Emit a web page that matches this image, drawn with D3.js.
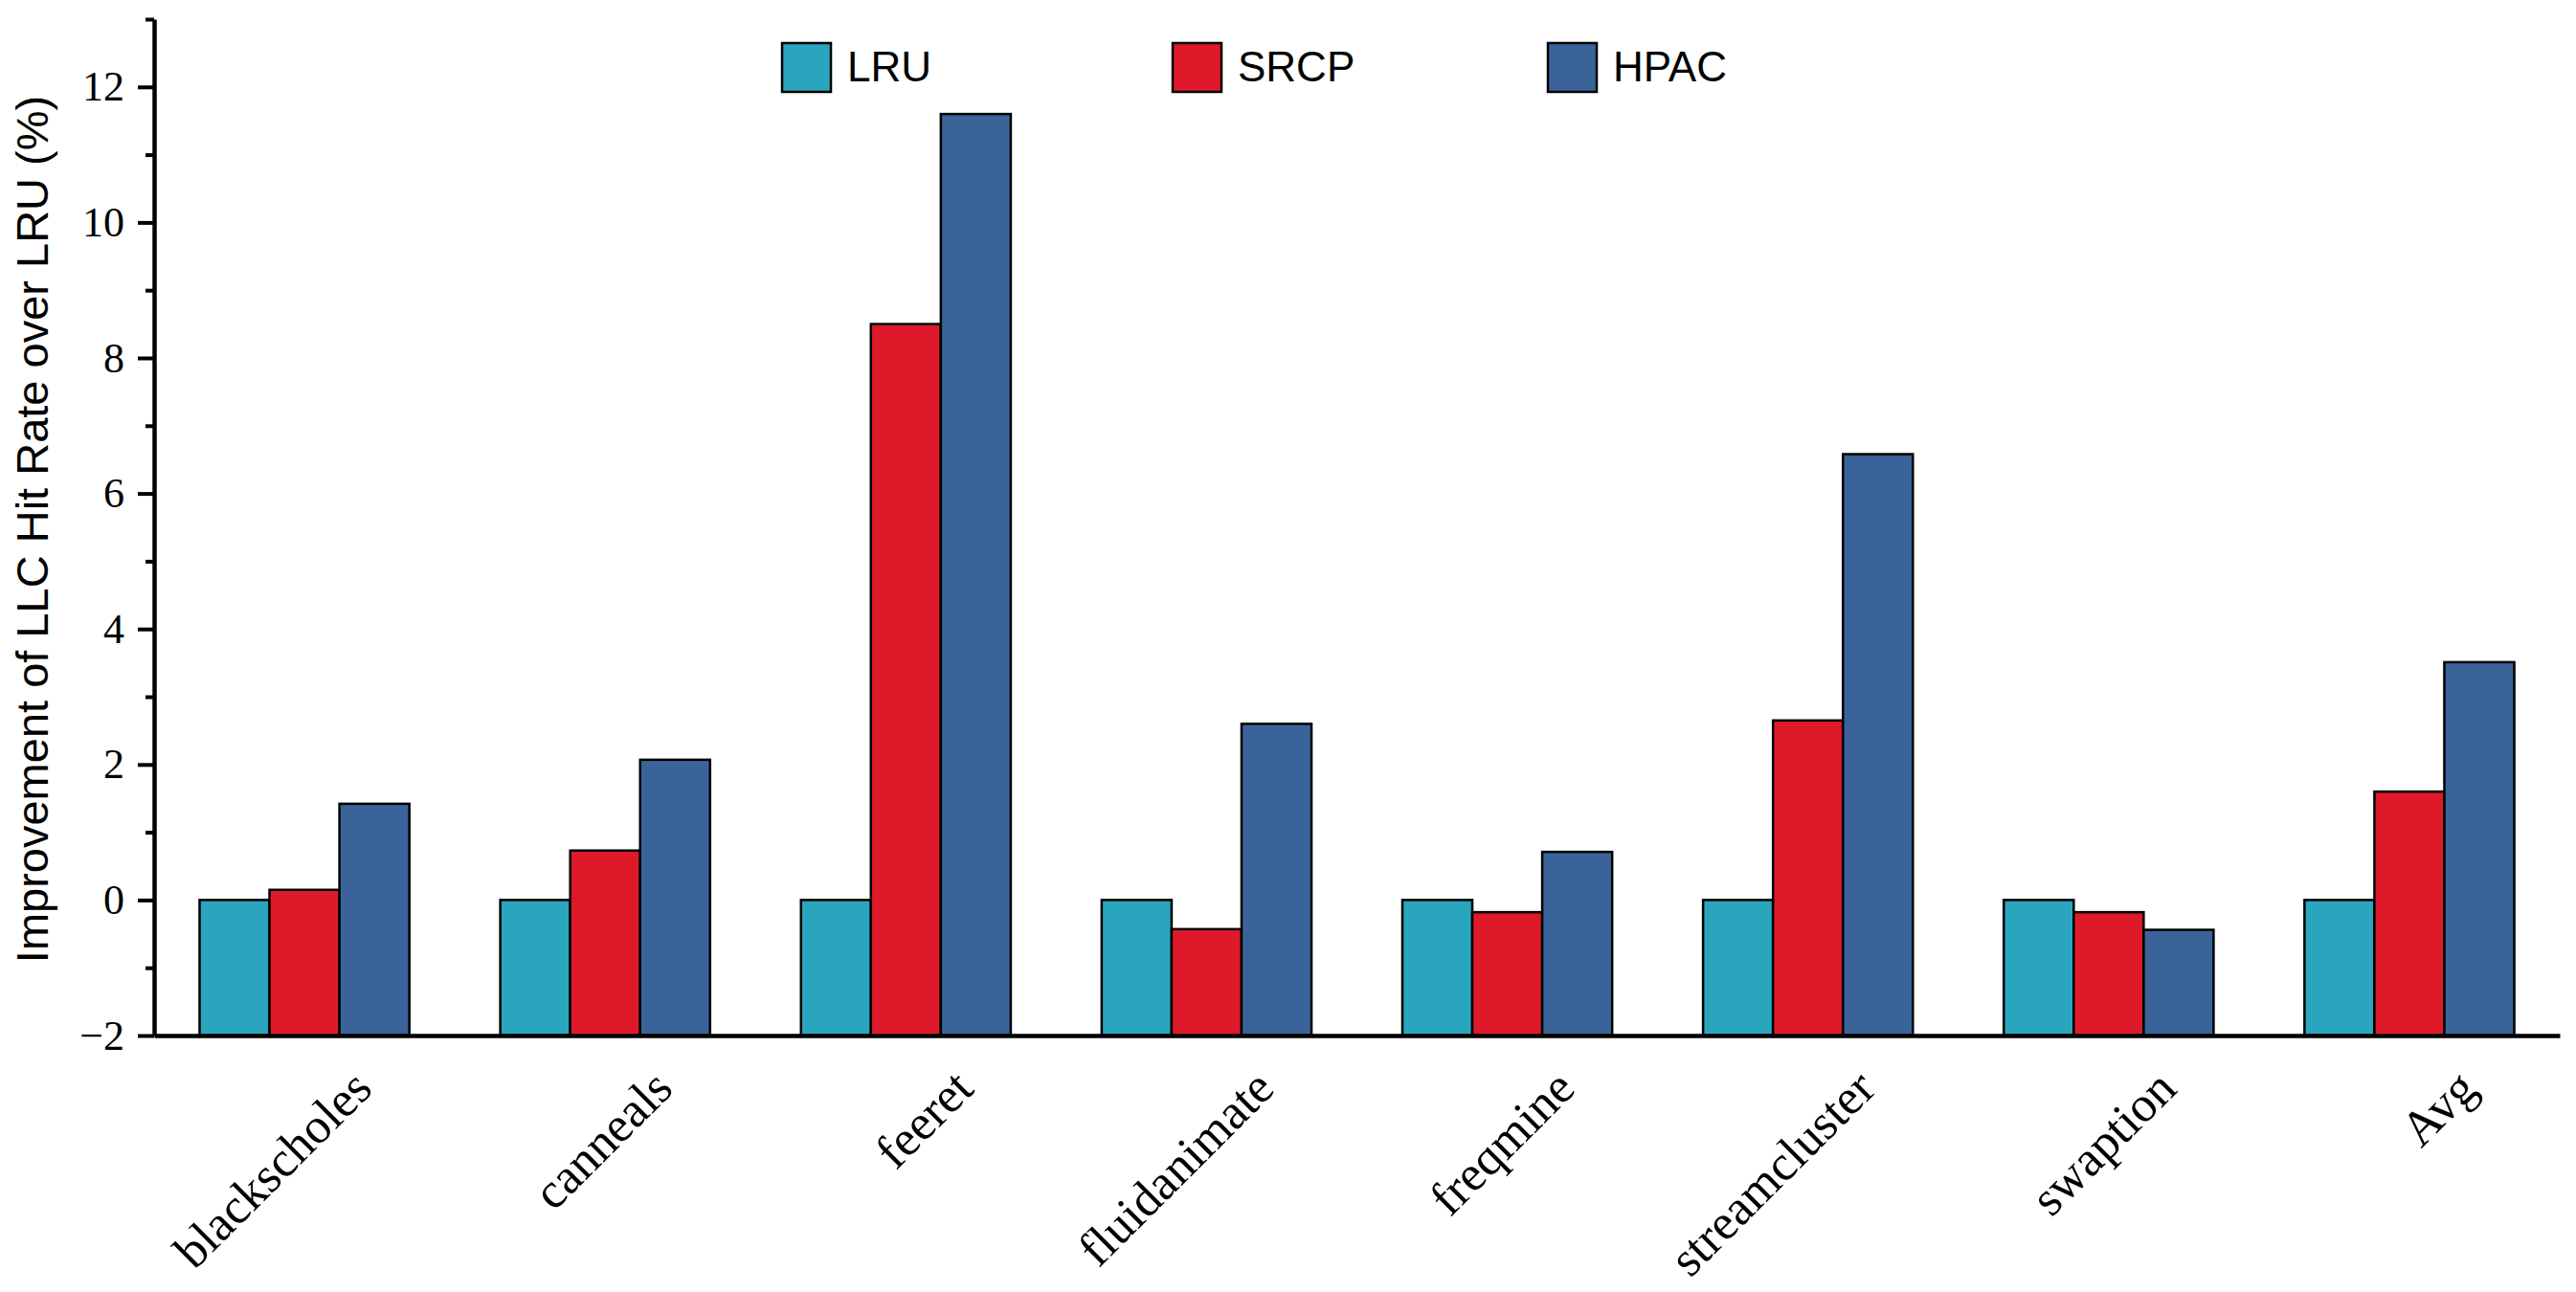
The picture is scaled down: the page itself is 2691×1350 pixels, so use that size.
<!DOCTYPE html>
<html>
<head>
<meta charset="utf-8">
<script src="https://cdn.jsdelivr.net/npm/d3@7"></script>
<style>
  body { margin: 0; background: #fff; }
</style>
</head>
<body>
<script>
// data
const categories = ["blackscholes", "canneals", "feeret", "fluidanimate", "freqmine", "streamcluster", "swaption", "Avg"];
const series = ["LRU", "SRCP", "HPAC"];
const lru  = [0, 0, 0, 0, 0, 0, 0, 0];
const srcp = [0.15, 0.73, 8.5, -0.43, -0.18, 2.65, -0.18, 1.6];
const hpac = [1.42, 2.07, 11.6, 2.6, 0.71, 6.58, -0.44, 3.51];
const yMajorTicks = [-2, 0, 2, 4, 6, 8, 10, 12];
const yMinorTicks = [-1, 1, 3, 5, 7, 9, 11, 13];
const colors = ["#29a6bd", "#de1a2a", "#3a6499"];

const values = [lru, srcp, hpac];
const WIDTH = 2691, HEIGHT = 1350;
const serif = "'Liberation Serif', 'Times New Roman', serif";
const sans = "'Liberation Sans', Arial, sans-serif";

const svg = d3.select("body").append("svg")
  .attr("width", WIDTH).attr("height", HEIGHT)
  .style("background", "#fff");

const mLeft = 161, mRight = 2674, mTop = 20, mBottom = 1082;

const x0 = d3.scaleBand().domain(categories).range([mLeft, mRight]).padding(0);
const x1 = d3.scaleBand().domain(series).range([0, x0.bandwidth()]).paddingInner(0).paddingOuter(0.65);
const y = d3.scaleLinear().domain([-2, 13]).range([mBottom, mTop]);

// bars (they rise from the bottom of the axis)
const groups = svg.append("g").selectAll("g")
  .data(categories)
  .enter().append("g")
  .attr("transform", d => `translate(${x0(d)},0)`);

groups.selectAll("rect")
  .data((c, i) => series.map((s, j) => ({ s: s, v: values[j][i], j: j })))
  .enter().append("rect")
  .attr("x", d => x1(d.s))
  .attr("y", d => y(d.v))
  .attr("width", x1.bandwidth())
  .attr("height", d => y(-2) - y(d.v))
  .attr("fill", d => colors[d.j])
  .attr("stroke", "#000")
  .attr("stroke-width", 2.5);

// y axis, minor ticks first then major with labels
const yMinor = svg.append("g").attr("transform", `translate(${mLeft},0)`)
  .call(d3.axisLeft(y).tickValues(yMinorTicks).tickSize(9).tickFormat(""));
yMinor.select(".domain").remove();
yMinor.selectAll("line").attr("stroke-width", 4);

const yAxis = svg.append("g").attr("transform", `translate(${mLeft},0)`)
  .call(d3.axisLeft(y).tickValues(yMajorTicks).tickSize(17).tickSizeOuter(0).tickPadding(14)
    .tickFormat(d => d < 0 ? "\u2212" + Math.abs(d) : d));
yAxis.select(".domain").attr("stroke-width", 4.5);
yAxis.selectAll("line").attr("stroke-width", 4);
yAxis.selectAll("text")
  .style("font-family", serif)
  .style("font-size", "44px")
  .attr("fill", "#000");

// x axis
const xAxis = svg.append("g").attr("transform", `translate(0,${mBottom})`)
  .call(d3.axisBottom(x0).tickSize(0).tickSizeOuter(0));
xAxis.select(".domain").attr("stroke-width", 4.5);
xAxis.selectAll("text")
  .attr("x", 0).attr("y", 0).attr("dy", 0)
  .attr("text-anchor", "end")
  .attr("transform", "translate(73,58) rotate(-45)")
  .style("font-family", serif)
  .style("font-size", "52px")
  .attr("fill", "#000");

// y title
svg.append("text")
  .attr("transform", "translate(50,553) rotate(-90)")
  .attr("text-anchor", "middle")
  .style("font-family", sans)
  .style("font-size", "47px")
  .text("Improvement of LLC Hit Rate over LRU (%)");

// legend
const legendX = [817, 1225, 1617];
const legend = svg.append("g").selectAll("g")
  .data(series)
  .enter().append("g")
  .attr("transform", (d, i) => `translate(${legendX[i]},45)`);
legend.append("rect")
  .attr("width", 51).attr("height", 51)
  .attr("fill", (d, i) => colors[i])
  .attr("stroke", "#000").attr("stroke-width", 2.5);
legend.append("text")
  .attr("x", 68).attr("y", 40)
  .style("font-family", sans)
  .style("font-size", "44px")
  .text(d => d);
</script>
</body>
</html>
